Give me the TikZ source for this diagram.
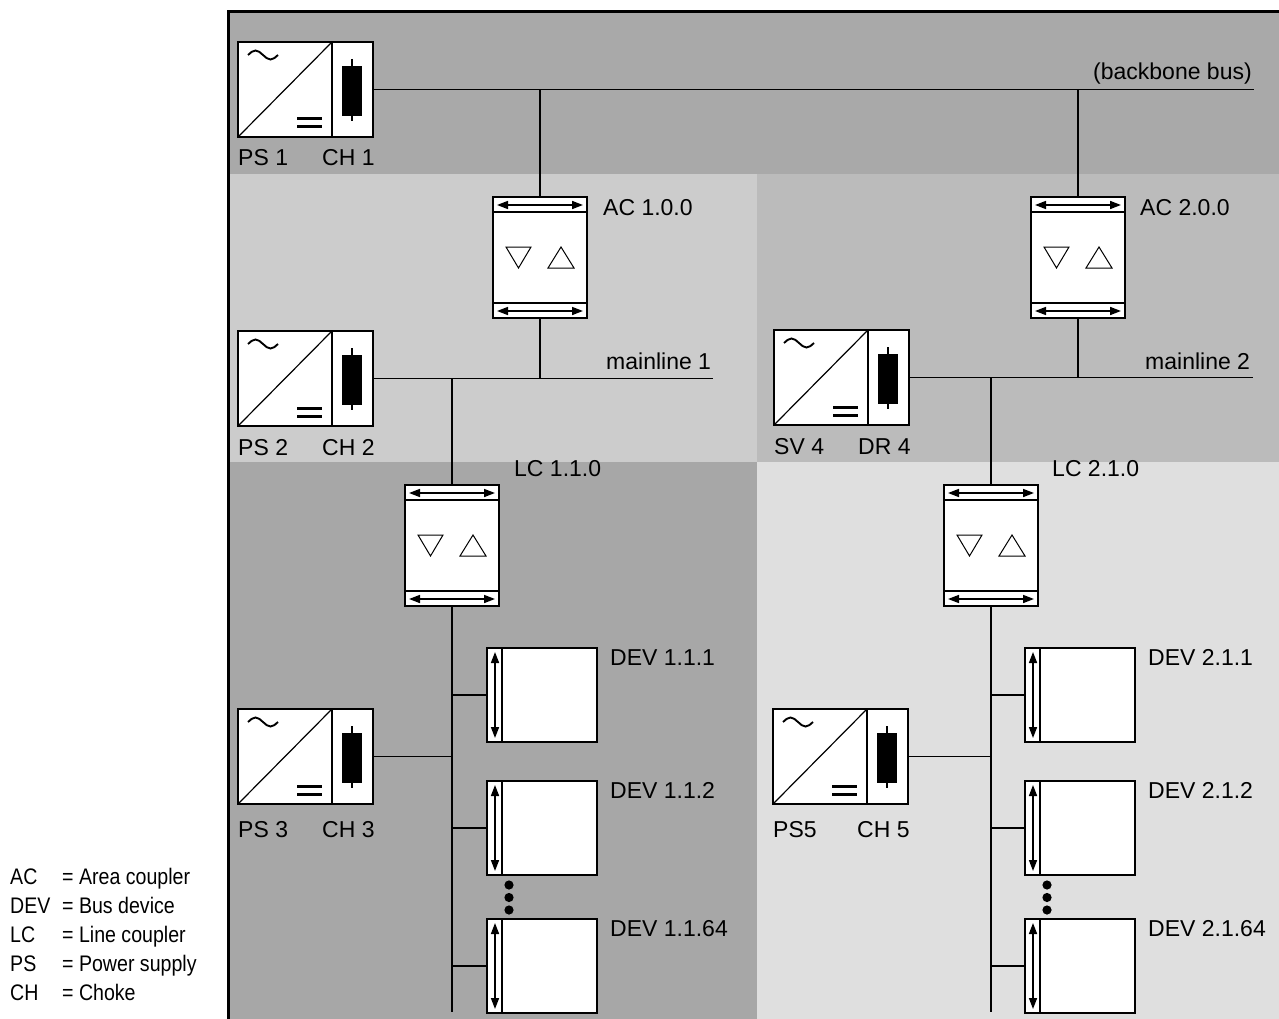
\documentclass[tikz,border=0pt]{standalone}
\usepackage{fontspec}
\setmainfont{Liberation Sans}
\newfontfamily\legfont[FakeStretch=0.87]{Liberation Sans}
\usetikzlibrary{arrows.meta,calc}
\definecolor{bandtop}{HTML}{A9A9A9}
\definecolor{upleft}{HTML}{CCCCCC}
\definecolor{upright}{HTML}{BBBBBB}
\definecolor{lowleft}{HTML}{A7A7A7}
\definecolor{lowright}{HTML}{DFDFDF}
\tikzset{
  box/.style={draw, fill=white, line width=1.4pt, inner sep=0pt, outer sep=0pt, rectangle, anchor=north west},
  wire/.style={line width=1.4pt},
  lbl/.style={anchor=base west, inner sep=0pt, font=\fontsize{23}{23}\selectfont},
  leg/.style={anchor=base west, inner sep=0pt, font=\legfont\fontsize{22.5}{23}\selectfont},
  dbl/.style={line width=1.6pt, {Triangle[length=11pt,width=8pt]}-{Triangle[length=11pt,width=8pt]}},
}
\newcommand{\powerunit}[6]{%
  \node[box, minimum width=94pt, minimum height=95pt] (#1ps) at (#2,#3) {};
  \node[box, minimum width=41pt, minimum height=95pt] (#1ch) at (#1ps.north east) {};
  \draw[line width=1.2pt] (#1ps.south west) -- (#1ps.north east);
  \draw[line width=1.9pt] ($(#2,#3)+(10,13)$) sin ++(7.5,-4.5) cos ++(7.5,4.5) sin ++(7.5,4.5) cos ++(7.5,-4.5);
  \draw[line width=3pt] ($(#2,#3)+(59,77)$) -- ++(25,0);
  \draw[line width=3pt] ($(#2,#3)+(59,85)$) -- ++(25,0);
  \fill ($(#2,#3)+(104,24)$) rectangle ++(20,50);
  \draw[line width=2pt] ($(#2,#3)+(114,17)$) -- ++(0,62);
  \node[lbl] (#1psl) at ($(#2,#3)+(0,#6)$) {#4};
  \node[lbl] (#1chl) at ($(#2,#3)+(84,#6)$) {#5};
}
\newcommand{\coupler}[5]{%
  \node[box, minimum width=94pt, minimum height=121pt] (#1) at (#2,#3) {};
  \draw[line width=1.2pt] ($(#2,#3)+(0,15)$) -- ++(94,0);
  \draw[line width=1.2pt] ($(#2,#3)+(0,106)$) -- ++(94,0);
  \draw[dbl] ($(#2,#3)+(4,8)$) -- ++(86,0);
  \draw[dbl] ($(#2,#3)+(4,114)$) -- ++(86,0);
  \draw[line width=1pt] ($(#2,#3)+(13,50)$) -- ++(25,0) -- ++(-12.5,21) -- cycle;
  \draw[line width=1pt] ($(#2,#3)+(55,71)$) -- ++(26,0) -- ++(-13,-21) -- cycle;
  \node[lbl] (#1l) at #5 {#4};
}
\newcommand{\device}[4]{%
  \node[box, minimum width=110pt, minimum height=94pt] (#1) at (#2,#3) {};
  \draw[line width=1.2pt] ($(#2,#3)+(15,0)$) -- ++(0,94);
  \draw[dbl] ($(#2,#3)+(8,4)$) -- ++(0,86);
  \node[lbl] (#1l) at ($(#2,#3)+(123,17)$) {#4};
}
\begin{document}
\begin{tikzpicture}[x=1pt,y=-1pt]
\useasboundingbox (0,0) rectangle (1279,1019);
% regions
\fill[bandtop] (228,12) rectangle (1279,174);
\fill[upleft] (228,174) rectangle (757,462);
\fill[upright] (757,174) rectangle (1279,462);
\fill[lowleft] (228,462) rectangle (757,1019);
\fill[lowright] (757,462) rectangle (1279,1019);
\draw[line width=3pt] (228,1019) -- (228,12) -- (1279,12);
% units
\powerunit{p1}{238}{42}{PS 1}{CH 1}{124}
\powerunit{p2}{238}{331}{PS 2}{CH 2}{124}
\powerunit{p3}{238}{709}{PS 3}{CH 3}{128}
\powerunit{p4}{774}{330}{SV 4}{DR 4}{124}
\powerunit{p5}{773}{709}{PS5}{CH 5}{128}
\coupler{ac1}{493}{197}{AC 1.0.0}{(603,215)}
\coupler{ac2}{1031}{197}{AC 2.0.0}{(1140,215)}
\coupler{lc1}{405}{485}{LC 1.1.0}{(514,476)}
\coupler{lc2}{944}{485}{LC 2.1.0}{(1052,476)}
\device{d11}{487}{648}{DEV 1.1.1}
\device{d12}{487}{781}{DEV 1.1.2}
\device{d164}{487}{919}{DEV 1.1.64}
\device{d21}{1025}{648}{DEV 2.1.1}
\device{d22}{1025}{781}{DEV 2.1.2}
\device{d264}{1025}{919}{DEV 2.1.64}
% dots
\foreach \yy in {885,897.5,910} {
  \fill (509,\yy) circle (4.6pt);
  \fill (1047,\yy) circle (4.6pt);
}
% bus texts
\node[lbl] (bbl) at (1093,80) {(backbone bus)};
\node[lbl] (ml1l) at (606,369) {mainline 1};
\node[lbl] (ml2l) at (1145,369) {mainline 2};
% connectors
\coordinate (bbend) at (1254,0);
\coordinate (ml1end) at (713,0);
\coordinate (ml2end) at (1253,0);
\coordinate (trunkend) at (0,1012);
\draw[wire] (p1ch.east) -- (p1ch.east -| bbend);
\draw[wire] (ac1.north) -- (ac1.north |- p1ch.east);
\draw[wire] (ac2.north) -- (ac2.north |- p1ch.east);
\draw[wire] (p2ch.east) -- (p2ch.east -| ml1end);
\draw[wire] (ac1.south) -- (ac1.south |- p2ch.east);
\draw[wire] (lc1.north) -- (lc1.north |- p2ch.east);
\draw[wire] (p4ch.east) -- (p4ch.east -| ml2end);
\draw[wire] (ac2.south) -- (ac2.south |- p4ch.east);
\draw[wire] (lc2.north) -- (lc2.north |- p4ch.east);
\draw[wire] (lc1.south) -- (lc1.south |- trunkend);
\draw[wire] (lc2.south) -- (lc2.south |- trunkend);
\foreach \d in {d11,d12,d164} \draw[wire] (\d.west) -- (\d.west -| lc1.south);
\foreach \d in {d21,d22,d264} \draw[wire] (\d.west) -- (\d.west -| lc2.south);
\draw[wire] (p3ch.east) -- (p3ch.east -| lc1.south);
\draw[wire] (p5ch.east) -- (p5ch.east -| lc2.south);
% legend
\node[leg] (la1) at (10,884) {AC};   \node[leg] (lb1) at (62,884) {= Area coupler};
\node[leg] (la2) at (10,913) {DEV};  \node[leg] (lb2) at (62,913) {= Bus device};
\node[leg] (la3) at (10,942) {LC};   \node[leg] (lb3) at (62,942) {= Line coupler};
\node[leg] (la4) at (10,971) {PS};   \node[leg] (lb4) at (62,971) {= Power supply};
\node[leg] (la5) at (10,1000) {CH};  \node[leg] (lb5) at (62,1000) {= Choke};
\end{tikzpicture}
\end{document}
